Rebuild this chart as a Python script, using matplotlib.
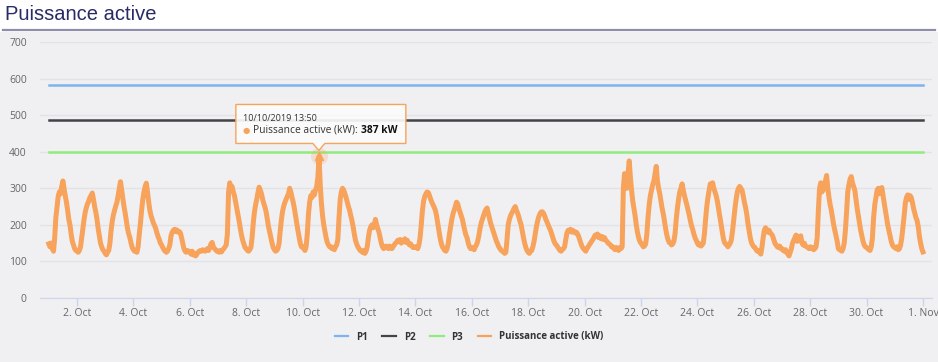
import matplotlib
matplotlib.use('Agg')
import matplotlib.pyplot as plt
import pandas as pd
from matplotlib.patches import Rectangle, Polygon
from matplotlib.lines import Line2D
from matplotlib.transforms import IdentityTransform

# ---------------- data (hourly readings, kW) ----------------
start = '2019-10-01 00:00'
oct_01_07 = [
    148, 140, 150, 135, 128, 165, 220, 248, 278, 290, 285, 305, 320, 298, 280, 262, 240, 215, 200, 175, 155, 145, 135, 130,  # 1
    128, 125, 130, 140, 165, 190, 215, 235, 248, 258, 265, 275, 280, 287, 270, 250, 235, 215, 190, 170, 150, 140, 132, 128,  # 2
    122, 118, 125, 130, 150, 185, 210, 228, 240, 252, 262, 280, 300, 318, 295, 270, 250, 232, 210, 190, 175, 165, 150, 138,  # 3
    132, 128, 130, 125, 140, 175, 205, 240, 270, 290, 305, 314, 290, 262, 240, 225, 215, 205, 198, 190, 178, 168, 160, 150,  # 4
    145, 138, 132, 128, 125, 128, 135, 145, 170, 180, 185, 188, 182, 186, 180, 182, 178, 165, 150, 135, 128, 125, 130, 128,  # 5
    125, 120, 128, 118, 122, 115, 120, 125, 128, 130, 128, 132, 130, 128, 132, 135, 130, 138, 148, 152, 140, 135, 132, 128,  # 6
    128, 125, 130, 126, 132, 135, 140, 145, 175, 290, 315, 300, 305, 290, 280, 262, 245, 228, 210, 190, 172, 158, 148, 138,  # 7
]
oct_08_14 = [
    135, 130, 128, 132, 138, 165, 205, 235, 255, 270, 288, 303, 295, 285, 270, 258, 248, 235, 215, 195, 180, 165, 150, 138,  # 8
    132, 128, 130, 135, 150, 185, 215, 238, 252, 262, 270, 278, 285, 300, 290, 275, 262, 245, 225, 205, 185, 168, 150, 140,  # 9
    140, 135, 130, 140, 175, 230, 262, 280, 275, 290, 282, 295, 305, 330, 387, 310, 260, 225, 200, 182, 165, 152, 145, 140,  # 10
    140, 135, 138, 132, 140, 145, 160, 220, 270, 290, 300, 295, 285, 275, 262, 250, 240, 225, 212, 195, 175, 158, 148, 140,  # 11
    135, 130, 128, 125, 130, 122, 128, 140, 165, 185, 195, 200, 192, 198, 215, 200, 190, 180, 165, 150, 140, 135, 138, 142,  # 12
    140, 135, 142, 138, 135, 140, 145, 150, 152, 158, 155, 160, 150, 155, 158, 162, 152, 158, 150, 145, 148, 142, 138, 140,  # 13
    138, 140, 135, 145, 165, 200, 240, 265, 278, 285, 290, 288, 280, 270, 262, 255, 248, 240, 225, 205, 185, 165, 150, 140,  # 14
]
oct_15_21 = [
    135, 130, 128, 135, 150, 175, 195, 215, 230, 240, 250, 262, 258, 245, 235, 225, 215, 200, 185, 172, 165, 150, 140, 135,  # 15
    135, 138, 132, 140, 145, 155, 170, 190, 205, 215, 225, 235, 242, 246, 232, 218, 205, 195, 185, 175, 165, 155, 148, 140,  # 16
    135, 130, 128, 125, 122, 125, 160, 200, 215, 225, 232, 238, 245, 250, 240, 232, 222, 210, 200, 182, 165, 150, 138, 130,  # 17
    125, 122, 128, 130, 140, 155, 175, 195, 210, 222, 230, 235, 236, 232, 225, 215, 208, 200, 192, 185, 175, 165, 155, 148,  # 18
    145, 140, 135, 130, 128, 132, 135, 140, 160, 178, 185, 182, 188, 180, 185, 182, 178, 180, 175, 168, 158, 148, 140, 135,  # 19
    132, 128, 135, 140, 145, 150, 155, 160, 165, 172, 168, 175, 165, 170, 162, 168, 160, 165, 158, 155, 150, 148, 145, 140,  # 20
    140, 135, 132, 138, 135, 130, 138, 135, 140, 300, 340, 335, 300, 340, 375, 330, 295, 265, 245, 225, 200, 180, 165, 155,  # 21
]
oct_22_28 = [
    150, 145, 140, 142, 148, 175, 220, 255, 280, 295, 310, 320, 340, 360, 320, 300, 285, 265, 245, 230, 210, 190, 172, 160,  # 22
    152, 150, 145, 148, 155, 175, 215, 245, 270, 290, 300, 312, 295, 280, 268, 255, 242, 228, 212, 198, 188, 175, 165, 158,  # 23
    150, 145, 148, 142, 145, 150, 175, 215, 250, 275, 295, 312, 305, 315, 300, 290, 280, 265, 245, 225, 205, 185, 165, 152,  # 24
    148, 145, 140, 145, 150, 160, 185, 215, 245, 270, 290, 300, 305, 300, 295, 280, 262, 248, 230, 205, 185, 165, 152, 145,  # 25
    140, 138, 132, 128, 130, 125, 120, 140, 165, 185, 192, 188, 180, 185, 178, 175, 170, 160, 150, 145, 140, 138, 142, 135,  # 26
    135, 130, 128, 132, 125, 120, 115, 125, 135, 150, 158, 165, 172, 155, 168, 160, 170, 150, 145, 150, 142, 140, 138, 135,  # 27
    140, 135, 138, 132, 135, 140, 165, 240, 300, 315, 290, 295, 305, 320, 335, 300, 275, 255, 240, 220, 200, 185, 170, 155,  # 28
]
oct_29_nov_01 = [
    135, 132, 130, 128, 135, 150, 185, 235, 290, 310, 325, 332, 315, 305, 295, 270, 245, 225, 205, 185, 170, 155, 145, 140,  # 29
    138, 135, 132, 130, 140, 165, 220, 255, 275, 295, 300, 285, 298, 302, 280, 260, 240, 220, 200, 185, 170, 155, 145, 140,  # 30
    138, 135, 140, 132, 135, 145, 165, 195, 225, 260, 275, 282, 270, 280, 275, 262, 245, 232, 220, 212, 195, 168, 150, 135,  # 31
    126,  # 1 Nov 00:00
]
power_kw = oct_01_07 + oct_08_14 + oct_15_21 + oct_22_28 + oct_29_nov_01

thresholds = {'P1': 582, 'P2': 486, 'P3': 400}
threshold_colors = {'P1': '#7cb5ec', 'P2': '#434348', 'P3': '#90ed7d'}
series_name = 'Puissance active (kW)'
series_color = '#f7a35c'

tooltip_time = '2019-10-10 13:50'
tooltip_value = 387
tooltip_date_label = '10/10/2019 13:50'

y_ticks = [0, 100, 200, 300, 400, 500, 600, 700]
tick_dates = pd.date_range('2019-10-02', '2019-11-01', freq='2D')
tick_labels = [f"{d.day}. {d.strftime('%b')}" for d in tick_dates]

# ---------------- figure ----------------
W, H = 938, 362
times = pd.date_range(start, periods=len(power_kw), freq='h')

plt.rcParams['font.family'] = ['Open Sans', 'DejaVu Sans']
fig = plt.figure(figsize=(W / 100, H / 100), dpi=100)
fig.patch.set_facecolor('white')
fig.add_artist(Rectangle((0, 0), 1, (H - 32) / H, transform=fig.transFigure,
                         facecolor='#f0f0f3', edgecolor='none', zorder=0))
fig.add_artist(Line2D([0.003, 0.997], [(H - 29.5) / H] * 2, transform=fig.transFigure,
                      color='#8e8eaa', lw=1.6))
fig.text(5 / W, (H - 14) / H, 'Puissance active', fontsize=14.5, color='#282b66',
         va='center', ha='left', family=['Liberation Sans', 'DejaVu Sans'])

ax = fig.add_axes([40 / W, 64 / H, 892 / W, 256 / H])
ax.set_facecolor('none')

t0 = times[0]
t1 = times[-1]
ax.set_xlim(t0 - pd.Timedelta(hours=7.5), t1 + pd.Timedelta(hours=7.7))
ax.set_ylim(0, 700)

for name, val in thresholds.items():
    ax.plot([t0, t1], [val, val], color=threshold_colors[name], lw=1.8, label=name, zorder=3)

ax.plot(times, power_kw, color=series_color, lw=3.6, label=series_name, zorder=4,
        solid_joinstyle='round')

# grid / axes styling
ax.set_yticks(y_ticks)
ax.set_yticklabels([str(v) for v in y_ticks])
ax.set_xticks(tick_dates)
ax.set_xticklabels(tick_labels)
ax.grid(axis='y', color='#e2e2e7', lw=1, zorder=1)
ax.grid(axis='x', visible=False)
for s in ['top', 'right', 'left']:
    ax.spines[s].set_visible(False)
ax.spines['bottom'].set_color('#ccd6eb')
ax.tick_params(axis='y', length=0, pad=9.5, labelsize=7.5, labelcolor='#666666')
ax.tick_params(axis='x', length=6, width=1, color='#ccd6eb', pad=1.5, labelsize=7.5,
               labelcolor='#666666')
for lab in ax.get_yticklabels():
    lab.set_horizontalalignment('right')

# tooltip marker
tt = pd.Timestamp(tooltip_time)
ax.scatter([tt], [tooltip_value], s=150, color=series_color, alpha=0.25, zorder=5, lw=0)
ax.plot([tt], [tooltip_value], marker='^', ms=5.5, color=series_color, zorder=6)

# tooltip box
fig.canvas.draw()
px, py = ax.transData.transform((matplotlib.dates.date2num(tt), tooltip_value))
L, R, T, B = -83, 87, 52, 13
verts = [(px + L, py + B), (px - 6, py + B), (px, py + 6), (px + 6, py + B),
         (px + R, py + B), (px + R, py + T), (px + L, py + T)]
box = Polygon(verts, closed=True, transform=IdentityTransform(),
              facecolor=(0.985, 0.985, 0.985, 0.92), edgecolor=series_color, lw=1,
              zorder=10, clip_on=False)
ax.add_patch(box)
ax.annotate(tooltip_date_label, xy=(tt, tooltip_value), xytext=(-76, 38),
            textcoords='offset pixels', fontsize=6.5, color='#333333', va='center', ha='left',
            zorder=11, annotation_clip=False)
ax.annotate('\u25cf', xy=(tt, tooltip_value), xytext=(-73, 26),
            textcoords='offset pixels', fontsize=6, color=series_color, va='center', ha='center',
            zorder=11, annotation_clip=False, family='DejaVu Sans')
txt1 = ax.annotate(series_name + ':', xy=(tt, tooltip_value), xytext=(-66, 26),
                   textcoords='offset pixels', fontsize=7.4, color='#333333', va='center',
                   ha='left', zorder=11, annotation_clip=False)
ax.annotate(f'{tooltip_value} kW', xy=(1, 0.5), xycoords=txt1, xytext=(3, 0),
            textcoords='offset pixels', fontsize=7.4, color='#111111', va='center', ha='left',
            fontweight='bold', zorder=11, annotation_clip=False)

# legend
handles, labels = ax.get_legend_handles_labels()
leg = fig.legend(handles, labels, loc='center', bbox_to_anchor=(0.5, (H - 337) / H), ncol=4,
                 frameon=False, prop={'weight': 'bold', 'size': 7.0}, handlelength=1.4,
                 columnspacing=1.5, handletextpad=0.8)
for txt in leg.get_texts():
    txt.set_color('#333333')
for line in leg.get_lines():
    line.set_linewidth(1.6)

fig.savefig('out.png', dpi=100, facecolor=fig.get_facecolor())
